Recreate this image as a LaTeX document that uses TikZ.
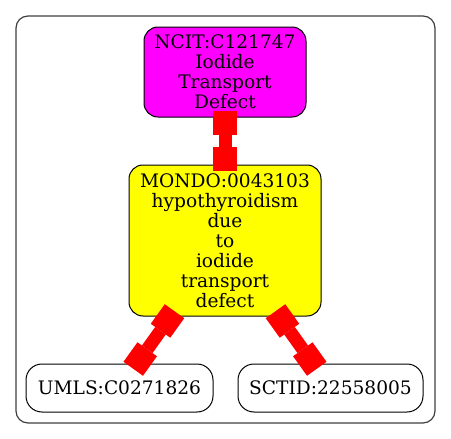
\documentclass[tikz,border=0pt]{standalone}
\usepackage{fontspec}
\setmainfont{DejaVu Serif}
\usetikzlibrary{arrows.meta}
\definecolor{ncitfill}{RGB}{255,0,255}
\definecolor{mondofill}{RGB}{255,255,0}
\definecolor{linkred}{RGB}{255,0,0}
\tikzset{
	term/.style={draw=black, line width=1pt, rounded corners=14pt, inner sep=0pt, align=center,
		font=\fontsize{18.6}{20}\selectfont},
	leaf/.style={term, rounded corners=16pt, minimum height=48pt},
	link/.style={draw=linkred, line width=13pt,
		{Square[length=24pt,width=24pt,line width=0pt]}-{Square[length=24pt,width=24pt,line width=0pt]},
		shorten <=-6.5pt, shorten >=-6.5pt}
}

\begin{document}
\begin{tikzpicture}[x=1pt,y=-1pt]
\useasboundingbox (0,0) rectangle (451,439);

% cluster
\draw[draw=black!75, line width=1.2pt, rounded corners=12pt, fill=white] (16,16) rectangle (435,423);

% terms
\node[term, fill=ncitfill, minimum width=162pt, minimum height=90pt] (ncit) at (225,72)
	{NCIT:C121747\\Iodide\\Transport\\Defect};
\node[term, fill=mondofill, minimum width=192pt, minimum height=151pt] (mondo) at (225,240.5)
	{MONDO:0043103\\hypothyroidism\\due\\to\\iodide\\transport\\defect};
\node[leaf, fill=white, minimum width=187pt] (umls) at (119.5,388) {UMLS:C0271826};
\node[leaf, fill=white, minimum width=185pt] (sctid) at (330.5,388) {SCTID:22558005};

% links
\draw[link] (ncit) -- (mondo);
\draw[link] (mondo) -- (umls);
\draw[link] (mondo) -- (sctid);

\end{tikzpicture}
\end{document}
